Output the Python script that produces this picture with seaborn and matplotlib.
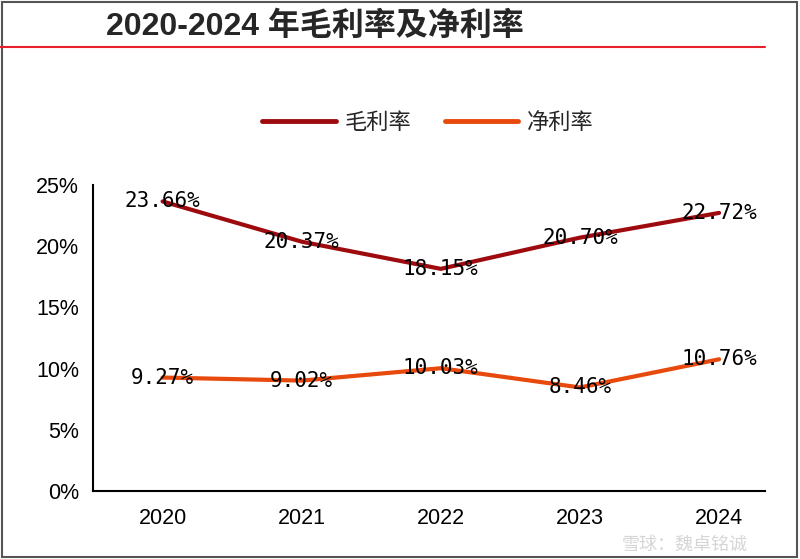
import pandas as pd
import matplotlib.pyplot as plt
import seaborn as sns
from matplotlib.lines import Line2D
from matplotlib.patches import Rectangle

# data
years = ['2020', '2021', '2022', '2023', '2024']
gross_margin = [23.66, 20.37, 18.15, 20.70, 22.72]
net_margin = [9.27, 9.02, 10.03, 8.46, 10.76]
series_names = ['毛利率', '净利率']
series_colors = ['#9E0B0F', '#E8490C']
y_ticks = [0, 5, 10, 15, 20, 25]

df = pd.DataFrame({
    'year': years * 2,
    'x': list(range(len(years))) * 2,
    'value': gross_margin + net_margin,
    'series': [series_names[0]] * len(years) + [series_names[1]] * len(years),
})

sns.set_theme(style="white")
plt.rcParams['font.family'] = ['Liberation Sans', 'Noto Sans CJK SC', 'DejaVu Sans']

fig = plt.figure(figsize=(8, 5.59), dpi=100)
ax = fig.add_axes([93 / 800, 68 / 559, 672 / 800, 306 / 559])
ax.set_facecolor('white')

sns.lineplot(data=df, x='x', y='value', hue='series', palette=series_colors,
             linewidth=3, legend=False, ax=ax, sort=False)

# value labels
for vals in [gross_margin, net_margin]:
    for i, v in enumerate(vals):
        ax.text(i, v, f'{v:.2f}%', ha='center', va='center', fontsize=15,
                family=['DejaVu Sans Mono'], color='black')

ax.set_xlim(-0.5, 4.33)
ax.set_ylim(0, 25)
ax.set_yticks(y_ticks)
ax.set_yticklabels([f'{t}%' for t in y_ticks], fontsize=15.5)
ax.set_xticks(range(len(years)))
ax.set_xticklabels(years, fontsize=15.5)
ax.set_xticks([i + 0.5 for i in range(len(years) - 1)], minor=True)
ax.tick_params(axis='x', which='major', length=0, pad=12, labelcolor='black')
ax.tick_params(axis='x', which='minor', length=6, width=1.5, color='black', direction='out')
ax.tick_params(axis='y', length=6, width=1.5, color='black', direction='out', pad=4,
               labelcolor='black')
ax.set_xlabel('')
ax.set_ylabel('')
for side in ['top', 'right']:
    ax.spines[side].set_visible(False)
for side in ['left', 'bottom']:
    ax.spines[side].set_color('black')
    ax.spines[side].set_linewidth(1.5)

# legend
handles = [Line2D([0], [0], color=c, lw=3.5, solid_capstyle='round') for c in series_colors]
fig.legend(handles, series_names, loc='center', bbox_to_anchor=(428 / 800, 1 - 122 / 559),
           ncol=2, frameon=False, handlelength=3.3, handletextpad=0.4, columnspacing=1.5,
           prop={'family': 'Noto Sans CJK SC', 'size': 16})

# title and red rule
fig.text(106 / 800, 1 - 27 / 559, '2020-2024 年毛利率及净利率', fontsize=23, fontweight='bold',
         va='center', ha='left', family=['Liberation Sans', 'Noto Sans CJK SC'])
fig.add_artist(Line2D([0, 765 / 800], [1 - 47 / 559, 1 - 47 / 559], color='#E8202A', lw=1.5,
                      transform=fig.transFigure))

# watermark
fig.text(622 / 800, 1 - 545 / 559, '雪球：魏卓铭诚', fontsize=13, color='#CFCFCF',
         va='center', ha='left', family=['Noto Sans CJK SC'], alpha=0.85)

# frame
fig.add_artist(Rectangle((0.002, 0.004), 0.994, 0.993, transform=fig.transFigure,
                         fill=False, edgecolor='#555555', lw=1.5))

fig.savefig('out.png', dpi=100)
